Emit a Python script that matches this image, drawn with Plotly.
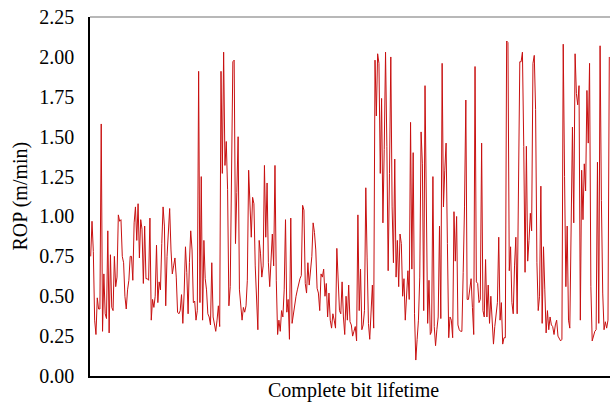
import plotly.graph_objects as go

seg_a = [0.75,0.97,0.78,0.35,0.26,0.49,0.42,0.42,1.58,0.28,
         0.64,0.39,0.36,0.91,0.27,0.76,0.43,0.41,0.75,0.56,
         0.62,1.01,0.97,0.98,0.75,0.71,0.50,0.42,0.54,0.60,
         0.75,0.75,0.60,0.96,1.06,0.85,1.08,0.74,0.98,0.92,
         0.58,0.94,0.61,0.61,0.60,0.99,0.35,0.48,0.43,0.50,0.82]
seg_b = [0.46,0.59,0.54,0.83,1.06,0.94,0.44,0.75,0.87,1.05,
         0.79,0.64,0.69,0.74,0.62,0.40,0.39,0.41,0.51,0.33,
         0.52,0.81,0.65,0.39,0.71,0.91,0.79,0.46,0.47,0.35,
         0.41,1.91,0.46,1.25,0.35,0.85,0.61,0.54,0.39,0.37,
         0.32,0.71,0.37,0.32,0.28,0.35,0.44,0.31,1.91,1.27,2.03]
seg_c = [1.32,1.47,1.17,0.44,0.56,1.50,1.97,1.98,0.83,1.15,1.50,
         0.54,0.46,0.35,0.43,0.40,0.44,0.60,1.29,1.05,0.87,1.12,1.08,0.69,0.50,
         0.29,0.85,0.77,0.62,0.69,1.32,0.87,1.21,0.71,0.56,
         0.75,0.89,0.69,1.32,0.60,0.26,0.35,0.28,0.41,0.37,
         0.54,0.98,0.40,0.48,0.23,0.99]
seg_d = [0.33,0.40,0.46,0.50,0.54,0.58,0.61,0.63,1.07,1.04,0.58,0.52,
         0.71,0.57,0.66,0.75,0.96,0.90,0.79,0.55,0.52,0.41,
         0.64,0.62,0.67,0.50,0.58,0.37,0.52,0.35,0.30,0.39,
         0.35,0.30,0.80,0.56,0.41,0.39,0.59,0.37,0.26,0.50,
         0.35,0.57,0.34,0.32,0.25,0.28,0.31,0.22]
seg_e = [1.01,0.41,0.67,0.29,0.32,0.41,1.18,0.74,0.33,
         0.23,0.46,0.57,0.30,1.98,1.63,2.02,1.96,1.27,
         1.74,0.96,1.42,2.03,1.44,0.66,1.27,2.00,
         1.06,0.71,1.36,0.62,0.85,0.56,0.89,0.83,0.50,0.61,
         0.35,0.50,0.66,0.48,1.59,0.67,1.40,0.39,0.10,0.23,
         0.35,0.62,1.53,1.33,0.41]
seg_f = [1.82,0.96,0.33,0.60,0.26,0.28,1.25,0.31,0.19,0.29,
         0.37,0.94,0.36,1.96,1.06,1.29,1.46,0.83,0.24,0.37,
         0.35,0.24,1.03,0.72,1.00,0.32,0.29,0.28,0.28,0.65,
         1.06,1.73,0.48,0.48,0.56,0.61,0.43,0.26,1.94,0.59,
         0.58,0.46,0.48,1.46,0.41,0.37,0.73,0.37,0.57,0.33,
         0.50,0.29]
seg_g = [0.20,0.31,0.39,0.46,0.87,0.35,0.46,0.20,0.24,0.24,
         2.10,2.09,0.66,0.81,0.46,0.39,0.69,0.87,0.39,1.46,
         1.97,1.97,2.03,1.44,0.65,1.44,0.72,0.85,1.02,0.91,
         1.96,2.01,1.67,0.71,0.41,0.50,1.19,0.33,0.81,0.54,
         0.27,0.41,0.29,0.37,0.32,0.31,0.26,0.32,0.35,0.25]
seg_h = [0.23,0.22,0.23,2.08,1.25,0.56,0.94,0.35,0.30,1.02,
         1.56,0.96,2.02,1.77,1.70,1.82,0.35,1.29,0.98,1.33,
         1.16,1.79,1.46,1.96,0.56,0.22,0.25,0.28,0.29,1.34,
         0.33,2.07,1.10,0.52,0.29,0.34,0.30,0.35,2.00]

rop = seg_a + seg_b + seg_c + seg_d + seg_e + seg_f + seg_g + seg_h
idx = list(range(len(rop)))

y_ticks = [0.0, 0.25, 0.5, 0.75, 1.0, 1.25, 1.5, 1.75, 2.0, 2.25]
x_title = "Complete bit lifetime"
y_title = "ROP (m/min)"

FONT = "Liberation Serif, Times New Roman, serif"

fig = go.Figure()
fig.add_trace(go.Scatter(x=idx, y=rop, mode="lines",
                         line=dict(color="#c81010", width=1)))

n = len(rop)
fig.update_layout(
    width=610, height=402,
    margin=dict(l=90, r=0, t=17, b=26, autoexpand=False),
    paper_bgcolor="white", plot_bgcolor="white",
    showlegend=False,
    font=dict(family=FONT, size=20, color="black"),
    xaxis=dict(range=[-0.53, n - 1 + 0.53], showticklabels=False, ticks="",
               showgrid=False, zeroline=False, showline=True,
               linecolor="black", linewidth=1.5, automargin=False),
    yaxis=dict(range=[0, 2.2505], tickvals=y_ticks, tickformat=".2f",
               showgrid=False, zeroline=False, showline=True,
               linecolor="black", linewidth=1.5, ticks="",
               ticklabelstandoff=10, automargin=False,
               ticklabeloverflow="allow",
               tickfont=dict(family=FONT, size=20)),
    shapes=[dict(type="line", xref="paper", yref="paper", x0=0, x1=1, y0=1, y1=1,
                 line=dict(color="#a0a0a0", width=1.5))],
    annotations=[
        dict(text=x_title, xref="paper", yref="paper", x=0.5, y=0,
             xanchor="center", yanchor="middle", yshift=-14, xshift=3,
             showarrow=False, font=dict(family=FONT, size=20)),
        dict(text=y_title, xref="paper", yref="paper", x=0, y=0.5,
             xanchor="center", yanchor="middle", xshift=-70, textangle=-90,
             showarrow=False, font=dict(family=FONT, size=20)),
    ],
)

fig.write_html("out.html",
               config={"displayModeBar": False},
               post_script="document.body.style.margin='0';document.body.style.overflow='hidden';")
